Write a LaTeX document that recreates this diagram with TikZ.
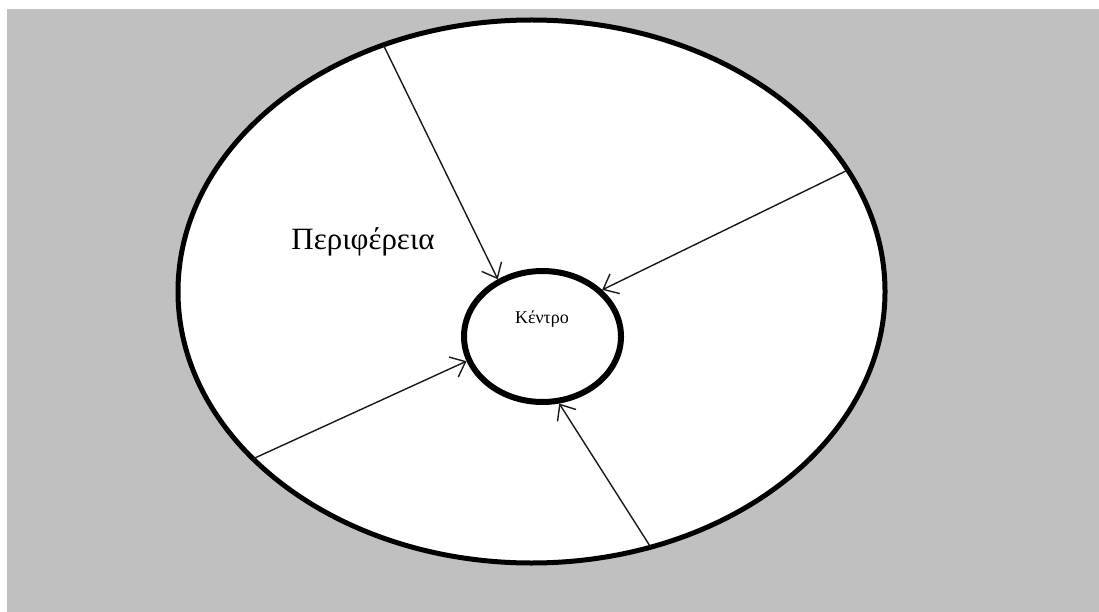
\documentclass[tikz,border=0pt]{standalone}
\usepackage{fontspec}
\setmainfont{Liberation Serif}
\usepackage{xcolor}
\usepackage{tikz}
\usetikzlibrary{arrows.meta,shapes.geometric}
\definecolor{panelgray}{HTML}{C0C0C0}
\tikzset{
    zone ring/.style={
        draw=black,
        ellipse,
        fill=white,
        line width=5pt,
        inner sep=0pt,
        outer sep=0pt,
        minimum width=707pt,
        minimum height=543pt
    },
    zone core/.style={
        draw=black,
        ellipse,
        fill=white,
        line width=6pt,
        inner sep=0pt,
        outer sep=3pt,
        minimum width=157pt,
        minimum height=131pt
    },
    zone title/.style={font=\fontsize{31}{36}\selectfont},
    zone label/.style={font=\fontsize{18}{22}\selectfont},
    zone arrow/.style={-{Straight Barb[length=13pt,width=22pt,line width=1.4pt]}, line width=1.4pt, draw=black!90}
}

\begin{document}
\begin{tikzpicture}[x=1pt, y=-1pt]
\useasboundingbox (0,0) rectangle (1099,612);
\fill[white] (0,0) rectangle (1099,612);
\fill[panelgray] (7,9) rectangle (1099,612);

% Outer zone and centre
\node[zone ring] (perif) at (531.5,291.5) {};
\node[zone core] (kentro) at (542.5,336.5) {};
\node[zone label, anchor=center] (kentrotxt) at (542,319) {Κέντρο};
\node[zone title, anchor=center] (periftxt) at (363,242) {Περιφέρεια};

% Flows from the periphery to the centre
\draw[zone arrow] (perif.121.5) -- (kentro.128);
\draw[zone arrow] (perif.21.5) -- (kentro.38.6);
\draw[zone arrow] (perif.211.2) -- (kentro.198.2);
\draw[zone arrow] (perif.295.8) -- (kentro.284.9);
\end{tikzpicture}
\end{document}
